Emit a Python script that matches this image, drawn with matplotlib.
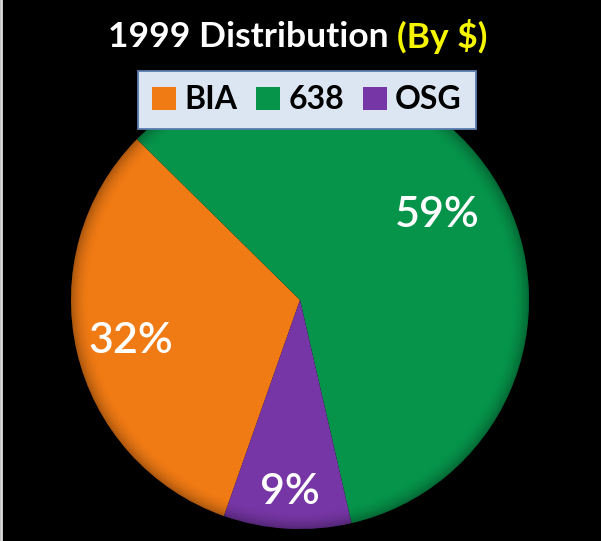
import matplotlib.pyplot as plt
import numpy as np
from matplotlib.patches import Circle

# data
labels = ['BIA', '638', 'OSG']
shares = [32, 59, 9]
colors = ['#F07A14', '#06944A', '#7736A6']
title_main = '1999 Distribution '
title_sub = '(By $)'

W, H = 601, 541
fig = plt.figure(figsize=(W / 100, H / 100), dpi=100, facecolor='black')
ax = fig.add_axes([0, 0, 1, 1])
ax.set_facecolor('black')

cx, cy, R = 300, H - 300, 229
wedges, _ = ax.pie(shares, colors=colors, startangle=250.6, counterclock=False,
                   center=(cx, cy), radius=R, frame=True,
                   wedgeprops=dict(linewidth=0))

# darker rim like the bevel
yy, xx = np.mgrid[-R:R:400j, -R:R:400j]
rr = np.hypot(xx, yy) / R
alpha = np.clip((rr - 0.92) / 0.08, 0, 1) ** 2 * 0.28
shade = np.zeros((400, 400, 4))
shade[..., 3] = alpha
im = ax.imshow(shade, extent=(cx - R, cx + R, cy - R, cy + R), origin='lower', zorder=3)
im.set_clip_path(Circle((cx, cy), R, transform=ax.transData))
ax.set_xlim(0, W)
ax.set_ylim(0, H)
ax.set_aspect('equal')
ax.axis('off')

# percentage labels (radius as fraction of R, small angle nudge in degrees)
label_r = [0.76, 0.71, 0.83]
label_da = [0, 3, 0]
for w, s, lr, da in zip(wedges, shares, label_r, label_da):
    a = np.deg2rad((w.theta1 + w.theta2) / 2 + da)
    ax.text(cx + lr * R * np.cos(a), cy + lr * R * np.sin(a) - 2, f'{s}%',
            ha='center', va='center', color='white', fontsize=31,
            family='Lato', weight='semibold', zorder=5)

leg = ax.legend(wedges, labels, loc='upper center', ncol=3,
                bbox_to_anchor=(0.511, 1 - 71 / H), bbox_transform=fig.transFigure,
                borderaxespad=0, fancybox=False, facecolor='#DCE5F2', edgecolor='#5A7DB0',
                framealpha=1, handlelength=0.75, handleheight=0.75, handletextpad=0.25,
                columnspacing=0.6, borderpad=0.45,
                prop=dict(family='Lato', weight='bold', size=23))
leg.get_frame().set_linewidth(1.3)
leg.set_zorder(6)

# two-colour title
t1 = fig.text(0, 1 - 37 / H, title_main, color='white', fontsize=25.5, family='Lato',
              weight='bold', va='center', ha='left')
t2 = fig.text(0, 1 - 37 / H, title_sub, color='#F5F500', fontsize=25.5, family='Lato',
              weight='bold', va='center', ha='left')
fig.canvas.draw()
w1 = t1.get_window_extent().width
w2 = t2.get_window_extent().width
x0 = 298 - (w1 + w2) / 2
t1.set_x(x0 / W)
t2.set_x((x0 + w1) / W)

# thin light edge on the left side
fig.add_artist(plt.Line2D([1 / W, 1 / W], [0, 1], color='#DDDDDD', lw=2, transform=fig.transFigure))

fig.savefig('out.png', dpi=100, facecolor='black')
